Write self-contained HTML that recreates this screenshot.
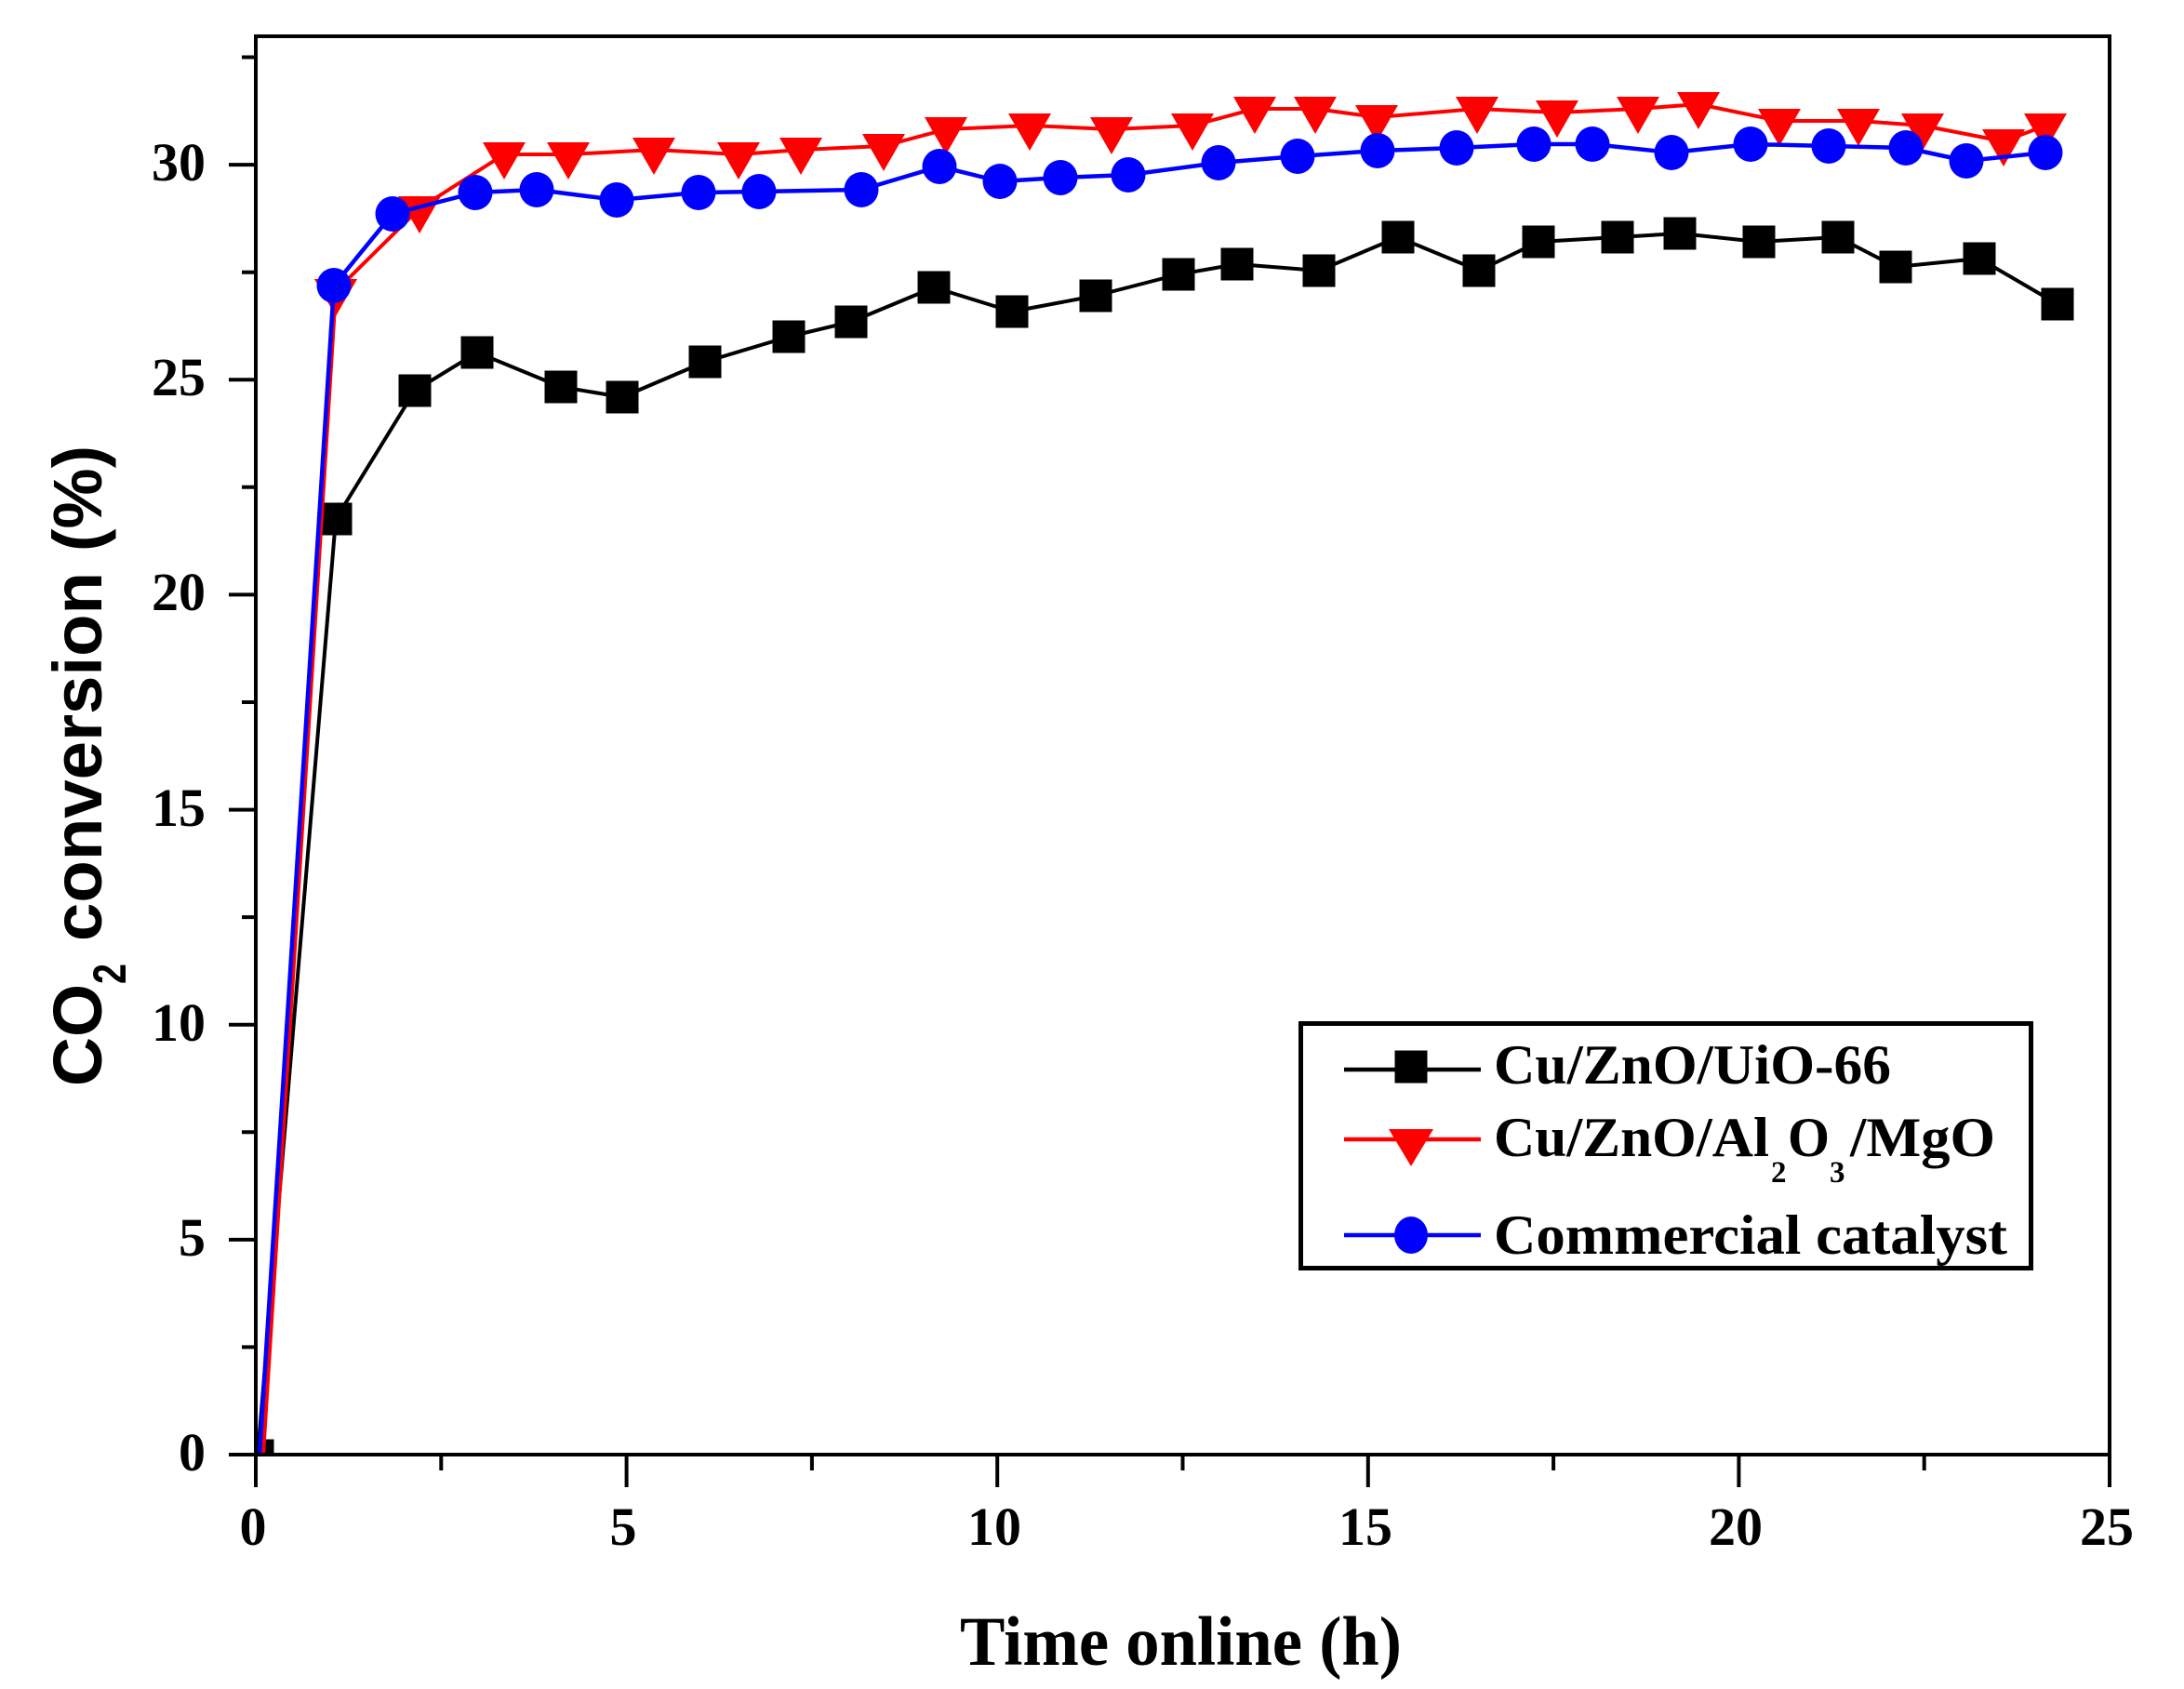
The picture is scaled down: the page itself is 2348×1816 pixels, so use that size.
<!DOCTYPE html>
<html>
<head>
<meta charset="utf-8">
<style>
  html, body { margin: 0; padding: 0; background: #ffffff; }
  svg { display: block; }
  .tick { font-family: "Liberation Serif", serif; font-weight: bold; font-size: 58px; fill: #000; }
  .leg { font-family: "Liberation Serif", serif; font-weight: bold; font-size: 60px; fill: #000; }
  .ylab { font-family: "Liberation Sans", sans-serif; font-weight: bold; fill: #000; }
</style>
</head>
<body>
<svg width="2348" height="1816" viewBox="0 0 2348 1816" xmlns="http://www.w3.org/2000/svg">
  <rect x="0" y="0" width="2348" height="1816" fill="#ffffff"/>
  <defs>
    <clipPath id="plot"><rect x="277" y="41" width="1989" height="1521"/></clipPath>
    <rect id="sq" x="-17.5" y="-17.5" width="35" height="35" fill="#000"/>
    <path id="tri" d="M-23,-13 L23,-13 L0,27 Z" fill="#ff0000"/>
    <ellipse id="ci" cx="0" cy="0" rx="18.5" ry="19" fill="#0000ff"/>
  </defs>

  <!-- data -->
  <g clip-path="url(#plot)">
    <!-- black series -->
    <polyline fill="none" stroke="#000" stroke-width="4" stroke-linejoin="round"
      points="277,1565 361,558 446,420 513,379 603,416 669,427 758,389 848,362 915,346 1004,309 1088,335 1178,318 1267,295 1330,284 1418,291 1503,255 1590,291 1654,260 1739,255 1806,251 1891,260 1976,255 2038,287 2128,278 2212,327"/>
    <use href="#sq" x="277" y="1565"/>
    <use href="#sq" x="361" y="558"/>
    <use href="#sq" x="446" y="420"/>
    <use href="#sq" x="513" y="379"/>
    <use href="#sq" x="603" y="416"/>
    <use href="#sq" x="669" y="427"/>
    <use href="#sq" x="758" y="389"/>
    <use href="#sq" x="848" y="362"/>
    <use href="#sq" x="915" y="346"/>
    <use href="#sq" x="1004" y="309"/>
    <use href="#sq" x="1088" y="335"/>
    <use href="#sq" x="1178" y="318"/>
    <use href="#sq" x="1267" y="295"/>
    <use href="#sq" x="1330" y="284"/>
    <use href="#sq" x="1418" y="291"/>
    <use href="#sq" x="1503" y="255"/>
    <use href="#sq" x="1590" y="291"/>
    <use href="#sq" x="1654" y="260"/>
    <use href="#sq" x="1739" y="255"/>
    <use href="#sq" x="1806" y="251"/>
    <use href="#sq" x="1891" y="260"/>
    <use href="#sq" x="1976" y="255"/>
    <use href="#sq" x="2038" y="287"/>
    <use href="#sq" x="2128" y="278"/>
    <use href="#sq" x="2212" y="327"/>

    <!-- red series -->
    <polyline fill="none" stroke="#ff0000" stroke-width="4" stroke-linejoin="round"
      points="283,1564 361,313 451,224 542,166 611,166 703,161 794,166 861,161 950,157 1017,139 1107,135 1195,139 1282,135 1349,117 1414,117 1480,126 1588,117 1674,121 1761,117 1826,112 1913,130 1998,130 2067,135 2154,152 2199,135"/>
    <use href="#tri" x="361" y="313"/>
    <use href="#tri" x="451" y="224"/>
    <use href="#tri" x="542" y="166"/>
    <use href="#tri" x="611" y="166"/>
    <use href="#tri" x="703" y="161"/>
    <use href="#tri" x="794" y="166"/>
    <use href="#tri" x="861" y="161"/>
    <use href="#tri" x="950" y="157"/>
    <use href="#tri" x="1017" y="139"/>
    <use href="#tri" x="1107" y="135"/>
    <use href="#tri" x="1195" y="139"/>
    <use href="#tri" x="1282" y="135"/>
    <use href="#tri" x="1349" y="117"/>
    <use href="#tri" x="1414" y="117"/>
    <use href="#tri" x="1480" y="126"/>
    <use href="#tri" x="1588" y="117"/>
    <use href="#tri" x="1674" y="121"/>
    <use href="#tri" x="1761" y="117"/>
    <use href="#tri" x="1826" y="112"/>
    <use href="#tri" x="1913" y="130"/>
    <use href="#tri" x="1998" y="130"/>
    <use href="#tri" x="2067" y="135"/>
    <use href="#tri" x="2154" y="152"/>
    <use href="#tri" x="2199" y="135"/>

    <!-- blue series -->
    <polyline fill="none" stroke="#0000ff" stroke-width="4.5" stroke-linejoin="round"
      points="279,1564 359,307 422,230 511,207 577,204 663,215 751,207 816,206 926,204 1010,179 1075,195 1140,191 1213,188 1310,175 1395,168 1481,162 1566,159 1649,155 1712,155 1797,164 1882,155 1966,157 2049,159 2114,173 2199,164"/>
    <use href="#ci" x="359" y="307"/>
    <use href="#ci" x="422" y="230"/>
    <use href="#ci" x="511" y="207"/>
    <use href="#ci" x="577" y="204"/>
    <use href="#ci" x="663" y="215"/>
    <use href="#ci" x="751" y="207"/>
    <use href="#ci" x="816" y="206"/>
    <use href="#ci" x="926" y="204"/>
    <use href="#ci" x="1010" y="179"/>
    <use href="#ci" x="1075" y="195"/>
    <use href="#ci" x="1140" y="191"/>
    <use href="#ci" x="1213" y="188"/>
    <use href="#ci" x="1310" y="175"/>
    <use href="#ci" x="1395" y="168"/>
    <use href="#ci" x="1481" y="162"/>
    <use href="#ci" x="1566" y="159"/>
    <use href="#ci" x="1649" y="155"/>
    <use href="#ci" x="1712" y="155"/>
    <use href="#ci" x="1797" y="164"/>
    <use href="#ci" x="1882" y="155"/>
    <use href="#ci" x="1966" y="157"/>
    <use href="#ci" x="2049" y="159"/>
    <use href="#ci" x="2114" y="173"/>
    <use href="#ci" x="2199" y="164"/>
  </g>

  <!-- frame -->
  <rect x="275" y="39" width="1993" height="1525" fill="none" stroke="#000" stroke-width="4"/>

  <!-- ticks -->
  <g stroke="#000" stroke-width="4" fill="none">
    <!-- y major -->
    <path d="M246,1564H275 M246,1332.9H275 M246,1101.7H275 M246,870.6H275 M246,639.4H275 M246,408.3H275 M246,177.1H275"/>
    <!-- y minor -->
    <path d="M260,1448.4H275 M260,1217.3H275 M260,986.1H275 M260,755H275 M260,523.8H275 M260,292.7H275 M260,61.5H275"/>
    <!-- x major -->
    <path d="M275,1564V1599 M673.6,1564V1599 M1072.2,1564V1599 M1470.8,1564V1599 M1869.4,1564V1599 M2268,1564V1599"/>
    <!-- x minor -->
    <path d="M474.3,1564V1581 M872.9,1564V1581 M1271.5,1564V1581 M1670.1,1564V1581 M2068.7,1564V1581"/>
  </g>

  <!-- y tick labels -->
  <g class="tick" text-anchor="end">
    <text x="221" y="1581">0</text>
    <text x="221" y="1350">5</text>
    <text x="221" y="1119">10</text>
    <text x="221" y="888">15</text>
    <text x="221" y="656">20</text>
    <text x="221" y="425">25</text>
    <text x="221" y="194">30</text>
  </g>

  <!-- x tick labels -->
  <g class="tick" text-anchor="middle">
    <text x="272" y="1661">0</text>
    <text x="670" y="1661">5</text>
    <text x="1069" y="1661">10</text>
    <text x="1468" y="1661">15</text>
    <text x="1866" y="1661">20</text>
    <text x="2265" y="1661">25</text>
  </g>

  <!-- x axis title -->
  <text x="1032" y="1790" font-family="'Liberation Serif', serif" font-weight="bold" font-size="75" textLength="475" lengthAdjust="spacingAndGlyphs">Time online (h)</text>

  <!-- y axis title -->
  <g transform="translate(109,1168) rotate(-90)" class="ylab">
    <text x="0" y="0" font-size="74" textLength="110" lengthAdjust="spacingAndGlyphs">CO</text>
    <text x="110" y="26" font-size="50" textLength="22" lengthAdjust="spacingAndGlyphs">2</text>
    <text x="156" y="0" font-size="74" textLength="397" lengthAdjust="spacingAndGlyphs">conversion</text>
    <text x="575" y="0" font-size="74" textLength="114" lengthAdjust="spacingAndGlyphs">(%)</text>
  </g>

  <!-- legend -->
  <rect x="1398.5" y="1100.5" width="785" height="263" fill="#ffffff" stroke="#000" stroke-width="5"/>
  <line x1="1445" y1="1150" x2="1592" y2="1150" stroke="#000" stroke-width="4.5"/>
  <use href="#sq" x="1517" y="1147"/>
  <line x1="1445" y1="1225" x2="1592" y2="1225" stroke="#ff0000" stroke-width="4.5"/>
  <path d="M1493,1214 L1541,1214 L1517,1254 Z" fill="#ff0000"/>
  <line x1="1445" y1="1328" x2="1592" y2="1328" stroke="#0000ff" stroke-width="4.5"/>
  <ellipse cx="1517" cy="1328" rx="18" ry="20" fill="#0000ff"/>

  <text class="leg" x="1606" y="1165" textLength="427" lengthAdjust="spacingAndGlyphs">Cu/ZnO/UiO-66</text>

  <text class="leg" x="1606" y="1243" textLength="296" lengthAdjust="spacingAndGlyphs">Cu/ZnO/Al</text>
  <text class="leg" x="1904" y="1271" font-size="33" style="font-size:33px">2</text>
  <text class="leg" x="1922" y="1243" textLength="45" lengthAdjust="spacingAndGlyphs">O</text>
  <text class="leg" x="1967" y="1271" font-size="33" style="font-size:33px">3</text>
  <text class="leg" x="1989" y="1243" textLength="156" lengthAdjust="spacingAndGlyphs">/MgO</text>

  <text class="leg" x="1606" y="1348" textLength="552" lengthAdjust="spacingAndGlyphs">Commercial catalyst</text>
</svg>
</body>
</html>
